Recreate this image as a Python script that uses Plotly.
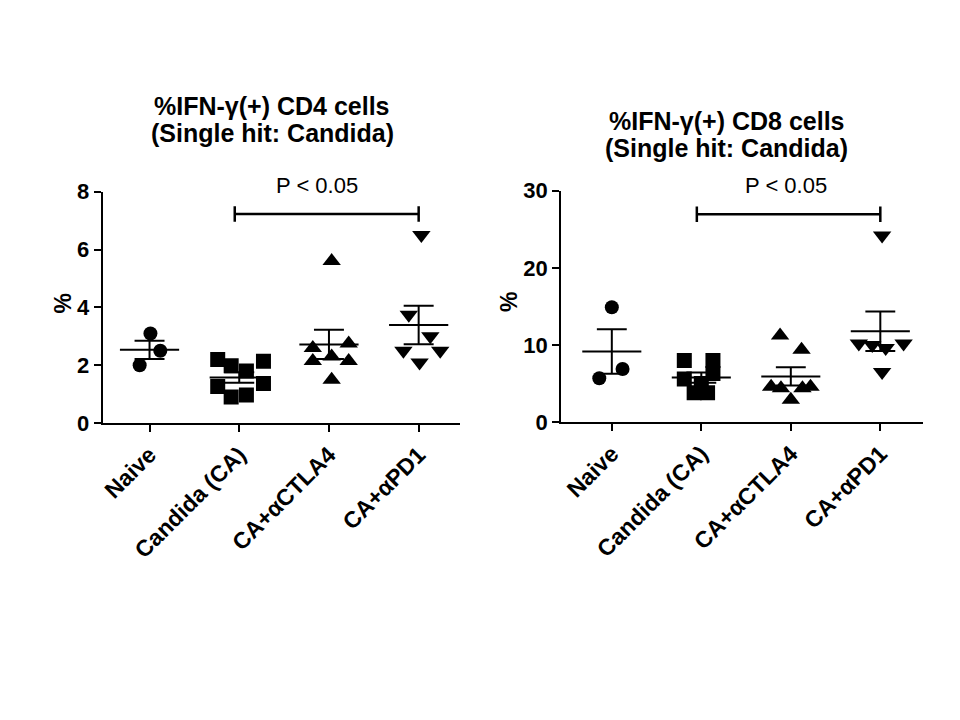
import numpy as np
import plotly.graph_objects as go

# ---------------- data ----------------
categories = ["Naive", "Candida (CA)", "CA+αCTLA4", "CA+αPD1"]

cd4_naive = [2.0, 3.1, 2.5]
cd4_candida = [2.2, 1.98, 1.8, 2.14, 1.27, 0.9, 0.97, 1.37]
cd4_ctla4 = [5.6, 2.6, 2.15, 2.3, 1.5, 2.75, 2.15]
cd4_pd1 = [6.5, 3.75, 3.0, 2.5, 2.1, 2.5]

cd8_naive = [14.9, 5.7, 6.9]
cd8_candida = [8.0, 5.6, 8.0, 6.3, 3.8, 3.8, 5.0]
cd8_ctla4 = [11.25, 9.4, 4.6, 4.4, 4.4, 4.6, 2.9]
cd8_pd1 = [24.2, 10.2, 10.0, 9.6, 10.2, 6.5]

cd4_yticks = [0, 2, 4, 6, 8]
cd8_yticks = [0, 10, 20, 30]

titles_cd4 = ["%IFN-γ(+) CD4 cells", "(Single hit: Candida)"]
titles_cd8 = ["%IFN-γ(+) CD8 cells", "(Single hit: Candida)"]
sig_label = "P < 0.05"
sig_pair = (1, 3)

# ---------------- layout / style ----------------
# horizontal scatter spread of the points (category units)
cd4_spread = [
    [-0.11, 0.01, 0.12],
    [-0.24, -0.09, 0.08, 0.27, -0.24, -0.09, 0.08, 0.27],
    [0.03, -0.18, -0.18, 0.03, 0.03, 0.22, 0.22],
    [0.03, -0.11, 0.13, -0.17, 0.01, 0.24],
]
cd8_spread = [
    [0.0, -0.14, 0.12],
    [-0.19, -0.19, 0.13, 0.13, -0.08, 0.07, 0.0],
    [-0.12, 0.12, -0.22, -0.11, 0.13, 0.22, 0.0],
    [0.02, -0.24, -0.09, 0.06, 0.26, 0.02],
]
symbols = ["circle", "square", "triangle-up", "triangle-down"]
sizes = [14, 15, 16, 16]
MEAN_HW = 0.33
CAP_HW = 0.167

# page has an 8px body margin: size the figure to fit the 960x720 window
PAGE_OFF = 8
W, H = 960 - 2 * PAGE_OFF, 720 - 2 * PAGE_OFF
FONT = "Arial, Liberation Sans, sans-serif"


def px(x):
    return (x - PAGE_OFF) / W


def py(y):
    return 1 - (y - PAGE_OFF) / H


fig = go.Figure()


def add_panel(groups, spreads, xref, yref, bracket_y, tick_h):
    for i, (vals, sp) in enumerate(zip(groups, spreads)):
        fig.add_trace(go.Scatter(
            x=[i + s for s in sp], y=vals, mode="markers",
            marker=dict(symbol=symbols[i], size=sizes[i], color="black",
                        line=dict(width=0)),
            xaxis=xref, yaxis=yref, showlegend=False, hoverinfo="skip"))
    # mean and SEM lines
    lx, ly = [], []
    for i, vals in enumerate(groups):
        v = np.array(vals, dtype=float)
        m = v.mean()
        sem = v.std(ddof=1) / np.sqrt(len(v))
        lx += [i - MEAN_HW, i + MEAN_HW, None]
        ly += [m, m, None]
        lx += [i, i, None]
        ly += [m - sem, m + sem, None]
        for yv in (m - sem, m + sem):
            lx += [i - CAP_HW, i + CAP_HW, None]
            ly += [yv, yv, None]
    fig.add_trace(go.Scatter(x=lx, y=ly, mode="lines",
                             line=dict(color="black", width=2),
                             xaxis=xref, yaxis=yref, showlegend=False,
                             hoverinfo="skip"))
    # significance bracket
    a, b = sig_pair
    a -= 0.05
    fig.add_trace(go.Scatter(
        x=[a, b, None, a, a, None, b, b],
        y=[bracket_y, bracket_y, None, bracket_y - tick_h, bracket_y + tick_h,
           None, bracket_y - tick_h, bracket_y + tick_h],
        mode="lines", line=dict(color="black", width=2.5),
        xaxis=xref, yaxis=yref, showlegend=False, hoverinfo="skip"))


add_panel([cd4_naive, cd4_candida, cd4_ctla4, cd4_pd1], cd4_spread,
          "x", "y", 7.23, 0.27)
add_panel([cd8_naive, cd8_candida, cd8_ctla4, cd8_pd1], cd8_spread,
          "x2", "y2", 26.96, 1.0)

xtickfont = dict(family=FONT, size=23, color="black", weight="bold")
ytickfont = dict(family=FONT, size=22, color="black", weight="bold")
xcommon = dict(tickmode="array", tickvals=list(range(len(categories))),
               ticktext=categories, tickangle=-45, ticks="outside",
               ticklen=7, tickwidth=2, tickcolor="black", showline=True,
               linewidth=2, linecolor="black", showgrid=False,
               zeroline=False, tickfont=xtickfont)
ycommon = dict(ticks="outside", ticklen=7, tickwidth=2, tickcolor="black",
               showline=True, linewidth=2, linecolor="black",
               showgrid=False, zeroline=False, tickfont=ytickfont)

fig.update_layout(
    width=W, height=H, margin=dict(l=0, r=0, t=0, b=0),
    paper_bgcolor="white", plot_bgcolor="white", showlegend=False,
    xaxis=dict(domain=[px(100), px(458)], range=[-0.522, 3.456],
               anchor="y", **xcommon),
    yaxis=dict(domain=[py(426), py(186)], range=[0, 8],
               tickvals=cd4_yticks, anchor="x", **ycommon),
    xaxis2=dict(domain=[px(560), px(923)], range=[-0.565, 3.478],
                anchor="y2", **xcommon),
    yaxis2=dict(domain=[py(425), py(185)], range=[0, 30],
                tickvals=cd8_yticks, anchor="x2", **ycommon),
)

title_font = dict(family=FONT, size=25, color="black", weight="bold")
ann = []
for txt, (x, y) in zip(titles_cd4, [(270, 97), (270, 125)]):
    ann.append(dict(text=txt, x=px(x), y=py(y), xref="paper", yref="paper",
                    showarrow=False, xanchor="center", yanchor="middle",
                    font=title_font))
for txt, (x, y) in zip(titles_cd8, [(726, 113), (726, 141)]):
    ann.append(dict(text=txt, x=px(x), y=py(y), xref="paper", yref="paper",
                    showarrow=False, xanchor="center", yanchor="middle",
                    font=title_font))
for (x, y) in [(315, 180), (785, 180)]:
    ann.append(dict(text=sig_label, x=px(x), y=py(y), xref="paper",
                    yref="paper", showarrow=False, xanchor="center",
                    yanchor="middle",
                    font=dict(family=FONT, size=22, color="black")))
for (x, y) in [(60, 302), (507, 300)]:
    ann.append(dict(text="%", x=px(x), y=py(y), xref="paper", yref="paper",
                    showarrow=False, textangle=-90, xanchor="center",
                    yanchor="middle",
                    font=dict(family=FONT, size=23, color="black",
                              weight="bold")))
fig.update_layout(annotations=ann)

fig.write_html("out.html")
